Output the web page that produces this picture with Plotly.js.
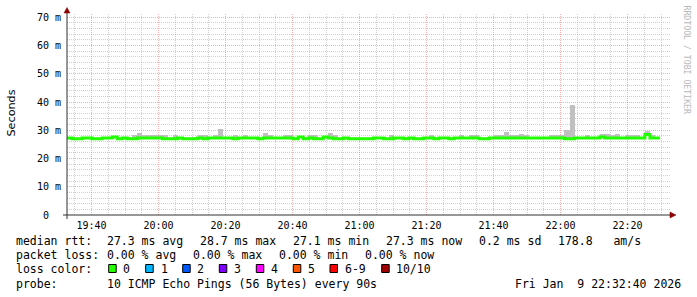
<!DOCTYPE html>
<html><head><meta charset="utf-8">
<script src="https://cdn.plot.ly/plotly-3.0.1.min.js"></script>
<style>html,body{margin:0;padding:0;background:#fff;overflow:hidden}#chart{width:697px;height:297px}</style>
</head><body><div id="chart"></div>
<script>
// ---------- data ----------
const startMs = Date.UTC(2026, 0, 9, 19, 32, 40);   // first step
const stepMs = 90000;                                 // 90 s probe step
const rangeStart = '2026-01-09 19:32:40';
const rangeEnd = '2026-01-09 22:32:40';

// median rtt per step (ms)
const medianRtt = [
  27.3,27.0,27.0,27.3,27.3,27.0,27.0,27.3,27.3,27.6,
  27.0,27.3,27.0,27.0,27.3,27.3,27.3,27.3,27.3,27.0,
  27.0,27.0,27.3,27.0,27.0,27.0,27.3,27.0,27.3,27.3,
  27.3,27.3,27.3,27.0,27.3,27.3,27.3,27.3,27.0,27.3,
  27.3,27.3,27.3,27.3,27.3,27.0,27.6,27.0,27.3,27.0,
  27.0,27.6,27.3,27.0,27.0,27.3,27.0,27.0,27.0,27.0,
  27.0,27.3,27.3,27.0,27.0,27.3,27.3,27.0,27.3,27.0,
  27.0,27.3,27.3,27.0,27.3,27.3,27.0,27.3,27.3,27.3,
  27.3,27.3,27.0,27.0,27.3,27.3,27.3,27.3,27.3,27.3,
  27.3,27.3,27.3,27.3,27.3,27.3,27.3,27.3,27.3,27.0,
  27.0,27.3,27.3,27.3,27.3,27.3,27.6,27.3,27.3,27.3,
  27.3,27.3,27.3,27.3,27.3,28.5,27.3,27.3,null,null
];

// top of the smoke (slowest ping) per step (ms), null = hidden under the median line
const smokeTop = [
  null,null,null,null,null,null,null,null,null,null,
  null,null,null,28.3,29.1,28.3,28.3,28.3,28.3,28.3,
  null,28.3,null,null,null,null,28.5,28.5,null,28.5,
  30.4,null,null,28.3,null,28.5,null,null,null,29.0,
  28.3,null,null,28.3,28.3,null,null,null,28.3,28.5,
  null,null,29.2,28.5,null,null,null,null,null,null,
  null,null,null,null,28.3,null,null,null,null,null,
  null,null,28.3,null,null,null,null,null,28.5,null,
  28.3,28.3,null,null,null,28.3,28.3,29.4,28.5,28.5,
  28.7,28.3,null,null,null,null,28.3,28.5,28.5,30.0,
  38.9,null,null,28.3,null,null,28.7,28.7,28.3,28.7,
  null,28.5,28.3,28.3,null,29.8,28.3,null,null,null
];

const yTickValues = [0,10,20,30,40,50,60,70];
const yTickLabels = ['0  ','10 m','20 m','30 m','40 m','50 m','60 m','70 m'];

const rttLabels = ['median rtt:','27.3 ms avg','28.7 ms max','27.1 ms min','27.3 ms now','0.2 ms sd','178.8   am/s'];
const lossLabelsRow = ['packet loss:','0.00 % avg','0.00 % max','0.00 % min','0.00 % now'];
const lossColorTitle = 'loss color:';
const lossLabels = ['0','1','2','3','4','5','6-9','10/10'];
const lossColors = ['#26ff00','#00b8ff','#0059ff','#7e00ff','#ff00ff','#ff5500','#ff0000','#a00000'];
const probeLabels = ['probe:','10 ICMP Echo Pings (56 Bytes) every 90s'];
const dateLabel = 'Fri Jan  9 22:32:40 2026';
const yTitle = 'Seconds';
const watermark = 'RRDTOOL / TOBI OETIKER';

// ---------- layout geometry (pixels) ----------
const W = 697, H = 297;
const M = {l: 67, r: 27, t: 14, b: 82};
const PW = W - M.l - M.r, PH = H - M.t - M.b;
const px = x => (x - M.l) / PW;
const py = y => (H - M.b - y) / PH;
const rttX = [16.2,106.8,200.2,292.8,385.5,478.8,557.8];
const lossX = [16.2,106.8,192.8,278.8,365.2];
const boxX = [108.7,145.7,182.7,219.3,256.3,293.3,330,381.7];
const boxLabelX = [122.8,160.5,197.2,233.8,270.5,307.8,344.5,395.5];
const rowY = [241, 255.3, 269, 283.7];

const nb = s => s.replace(/ /g, '\u00a0');
const monoFont = {family: 'DejaVu Sans Mono', size: 11.5, color: '#000'};

// ---------- traces ----------
const stepStart = i => startMs + i * stepMs;
const barX = [], barBase = [], barY = [];
smokeTop.forEach((v, i) => {
  if (v !== null && medianRtt[i] !== null) {
    barX.push(stepStart(i) + stepMs / 2);
    barBase.push(medianRtt[i]);
    barY.push(v - medianRtt[i]);
  }
});
const lineX = [], lineY = [];
let last = -1;
medianRtt.forEach((v, i) => { if (v !== null) { lineX.push(stepStart(i)); lineY.push(v); last = i; } });
lineX.push(stepStart(last + 1)); lineY.push(medianRtt[last]);

const traces = [
  {type: 'bar', x: barX, y: barY, base: barBase, width: stepMs,
   marker: {color: '#c0c0c0', line: {width: 0}}, hoverinfo: 'skip', showlegend: false},
  {type: 'scatter', mode: 'lines', x: lineX, y: lineY,
   line: {shape: 'hv', color: '#22ff00', width: 3}, hoverinfo: 'skip', showlegend: false}
];

// ---------- grid positions (minor lines exclude the major ones) ----------
const xMinor = [];
for (let t = Date.UTC(2026, 0, 9, 19, 35); t < Date.UTC(2026, 0, 9, 22, 33); t += 300000) {
  if (((t - Date.UTC(2026, 0, 9, 19, 40)) / 60000) % 20 !== 0) xMinor.push(t);
}
const yMinor = [];
for (let v = 2; v <= 70; v += 2) if (v % 10 !== 0) yMinor.push(v);

// ---------- annotations ----------
const ann = [];
const addText = (t, x, y, anchor) => ann.push({text: nb(t), x: px(x), y: py(y), xref: 'paper', yref: 'paper',
  xanchor: anchor || 'left', yanchor: 'middle', showarrow: false, font: monoFont, borderpad: 0, borderwidth: 0});
rttLabels.forEach((t, i) => addText(t, rttX[i], rowY[0]));
lossLabelsRow.forEach((t, i) => addText(t, lossX[i], rowY[1]));
addText(lossColorTitle, 16.2, rowY[2]);
lossLabels.forEach((t, i) => addText(t, boxLabelX[i], rowY[2]));
addText(probeLabels[0], 16.2, rowY[3]);
addText(probeLabels[1], 106.8, rowY[3]);
addText(dateLabel, 680.5, rowY[3], 'right');
ann.push({text: yTitle, x: px(11), y: py(113.5), xref: 'paper', yref: 'paper', textangle: -90,
  xanchor: 'center', yanchor: 'middle', showarrow: false,
  font: {family: 'DejaVu Sans', size: 11.2, color: '#000'}});
ann.push({text: nb(watermark), x: px(686.5), y: py(60), xref: 'paper', yref: 'paper', textangle: 90,
  xanchor: 'center', yanchor: 'middle', showarrow: false,
  font: {family: 'DejaVu Sans Mono', size: 8.2, color: '#b8b8b8'}});

// ---------- shapes ----------
const shapes = [];
lossColors.forEach((c, i) => shapes.push({type: 'rect', xref: 'paper', yref: 'paper',
  x0: px(boxX[i]), x1: px(boxX[i] + 7.5), y0: py(264.5), y1: py(272.5),
  fillcolor: c, line: {color: '#000', width: 1}}));
// axes with arrows
shapes.push({type: 'line', xref: 'paper', yref: 'paper', x0: px(63), x1: px(672), y0: py(215), y1: py(215),
  line: {color: '#303030', width: 1}});
shapes.push({type: 'line', xref: 'paper', yref: 'paper', x0: px(67), x1: px(67), y0: py(219), y1: py(12),
  line: {color: '#303030', width: 1}});
const tri = pts => 'M' + pts.map(p => px(p[0]) + ',' + py(p[1])).join(' L') + ' Z';
shapes.push({type: 'path', xref: 'paper', yref: 'paper', path: tri([[670, 212], [676, 215], [670, 218]]),
  fillcolor: '#8b0000', line: {color: '#8b0000', width: 0.5}});
shapes.push({type: 'path', xref: 'paper', yref: 'paper', path: tri([[64, 13], [67, 7.5], [70, 13]]),
  fillcolor: '#8b0000', line: {color: '#8b0000', width: 0.5}});

const majorGrid = 'rgba(230,80,80,0.45)';
const minorGrid = 'rgba(150,150,150,0.45)';
const tickFont = {family: 'DejaVu Sans Mono', size: 10, color: '#000'};

const layout = {
  width: W, height: H, margin: M,
  paper_bgcolor: '#fff', plot_bgcolor: '#fff',
  showlegend: false, bargap: 0,
  xaxis: {type: 'date', range: [rangeStart, rangeEnd], tick0: '2026-01-09 19:40:00', dtick: 20 * 60000,
    tickformat: '%H:%M', showgrid: true, gridcolor: majorGrid, griddash: '1px,1px', gridwidth: 1,
    minor: {tickmode: 'array', tickvals: xMinor, showgrid: true, gridcolor: minorGrid, griddash: '1px,1px', gridwidth: 1},
    zeroline: false, showline: false, ticks: '', ticklabelstandoff: 3, tickfont: tickFont, automargin: false, fixedrange: true},
  yaxis: {range: [0, PH / 2.824], tickmode: 'array', tickvals: yTickValues, ticktext: yTickLabels.map(nb),
    showgrid: true, gridcolor: majorGrid, griddash: '1px,1px', gridwidth: 1,
    minor: {tickmode: 'array', tickvals: yMinor, showgrid: true, gridcolor: minorGrid, griddash: '1px,1px', gridwidth: 1},
    zeroline: false, showline: false, ticks: '', ticklabelstandoff: 5, tickfont: tickFont, automargin: false, fixedrange: true},
  annotations: ann,
  shapes: shapes
};

Plotly.newPlot('chart', traces, layout, {staticPlot: true, displayModeBar: false});
</script>
</body></html>
